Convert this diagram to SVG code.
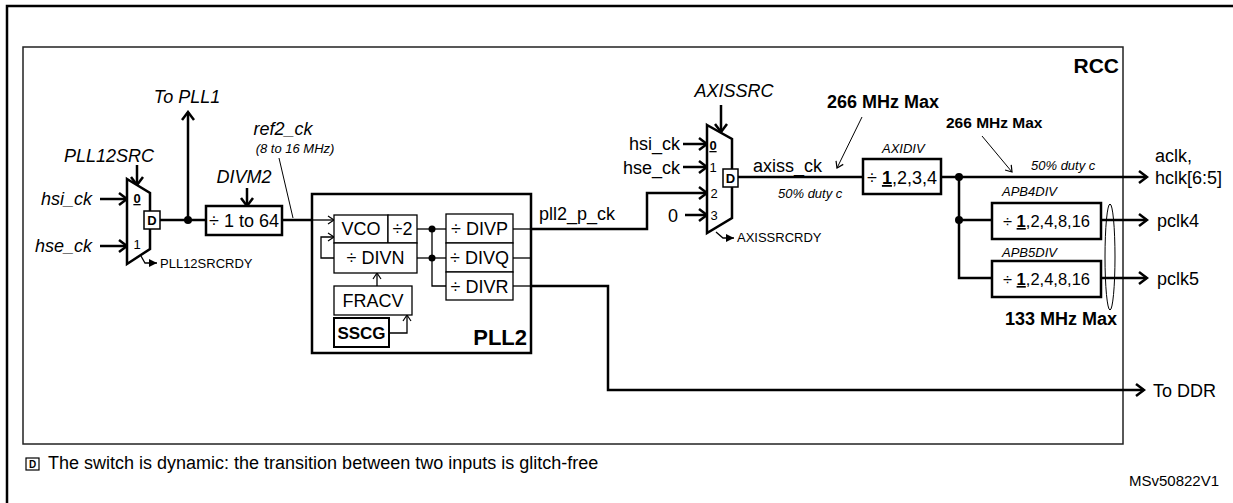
<svg xmlns="http://www.w3.org/2000/svg" width="1233" height="503" viewBox="0 0 1233 503">
<style>
text{font-family:"Liberation Sans",Arial,sans-serif;font-size:18px;fill:#000}
.i{font-style:italic}
.s{font-size:13px}
.b{font-weight:bold}
.m{text-anchor:middle}
.e{text-anchor:end}
.u{text-decoration:underline}
.k{fill:none;stroke:#000;stroke-width:2.5}
.n{fill:none;stroke:#000;stroke-width:1.3}
.bx{fill:#fff;stroke:#000;stroke-width:2.5}
.bn{fill:#fff;stroke:#000;stroke-width:1.3}
.dot{fill:#000}
</style>
<defs>
<marker id="ah" markerWidth="12" markerHeight="14" refX="10" refY="7" orient="auto" markerUnits="userSpaceOnUse"><path d="M2,1 L10,7 L2,13" fill="none" stroke="#000" stroke-width="2.5"/></marker>
<marker id="at" markerWidth="10" markerHeight="10" refX="8" refY="5" orient="auto" markerUnits="userSpaceOnUse"><path d="M2,1 L8,5 L2,9" fill="none" stroke="#000" stroke-width="1.2"/></marker>
<marker id="af" markerWidth="9" markerHeight="8" refX="8" refY="4" orient="auto" markerUnits="userSpaceOnUse"><path d="M0,0 L8,4 L0,8 Z" fill="#000"/></marker>
</defs>

<g id="frame">
<path d="M7,503 V6 H1233" fill="none" stroke="#000" stroke-width="2.5"/>
<rect x="23" y="47" width="1100" height="397" fill="none" stroke="#222" stroke-width="1.5"/>
<text x="1119" y="73" class="b e" style="font-size:21px">RCC</text>
</g>

<g id="connectors">
<line x1="100" y1="199" x2="127" y2="199" class="k" marker-end="url(#ah)"/>
<line x1="100" y1="246" x2="127" y2="246" class="k" marker-end="url(#ah)"/>
<line x1="137" y1="165" x2="137" y2="185" class="k" marker-end="url(#ah)"/>
<path d="M141,256 L145,263 H157" class="n" marker-end="url(#af)"/>
<line x1="160" y1="220" x2="206" y2="220" class="k"/>
<line x1="188" y1="220" x2="188" y2="112" class="k" marker-end="url(#ah)"/>
<circle cx="188" cy="220" r="4" class="dot"/>
<line x1="247" y1="188" x2="247" y2="206" class="k" marker-end="url(#ah)"/>
<line x1="279" y1="158" x2="293" y2="218" stroke="#000" stroke-width="1"/>
<line x1="282" y1="220" x2="312" y2="220" class="k"/>
<line x1="312" y1="220" x2="334" y2="220" class="n" marker-end="url(#at)"/>
<path d="M334,258 H321 V237 H334" class="n" marker-end="url(#at)"/>
<line x1="377" y1="286" x2="377" y2="273" class="n" marker-end="url(#at)"/>
<path d="M389,333 H407 V315" class="n" marker-end="url(#at)"/>
<line x1="417" y1="229" x2="446" y2="229" class="n"/>
<line x1="417" y1="258" x2="446" y2="258" class="n"/>
<path d="M432,229 V286 H446" class="n"/>
<circle cx="432" cy="229" r="3.5" class="dot"/>
<circle cx="432" cy="258" r="3.5" class="dot"/>
<line x1="513" y1="229" x2="531" y2="229" class="n"/>
<line x1="513" y1="258" x2="531" y2="258" class="n"/>
<line x1="513" y1="286" x2="531" y2="286" class="n"/>
<path d="M531,229 H647 V193 H707" class="k" marker-end="url(#ah)"/>
<path d="M531,286 H608 V390 H1144" class="k" marker-end="url(#ah)"/>
<line x1="683" y1="144" x2="707" y2="144" class="k" marker-end="url(#ah)"/>
<line x1="683" y1="167" x2="707" y2="167" class="k" marker-end="url(#ah)"/>
<line x1="685" y1="215" x2="707" y2="215" class="k" marker-end="url(#ah)"/>
<line x1="721" y1="105" x2="721" y2="132" class="k" marker-end="url(#ah)"/>
<path d="M716,232 L723,238 H734" class="n" marker-end="url(#af)"/>
<line x1="737" y1="177" x2="863" y2="177" class="k"/>
<line x1="862" y1="117" x2="837" y2="168" stroke="#000" stroke-width="1" marker-end="url(#at)"/>
<line x1="941" y1="177" x2="1147" y2="177" class="k" marker-end="url(#ah)"/>
<line x1="982" y1="136" x2="1012" y2="172" stroke="#000" stroke-width="1" marker-end="url(#at)"/>
<path d="M959,177 V278 H992" class="k"/>
<line x1="959" y1="220" x2="992" y2="220" class="k"/>
<circle cx="959" cy="177" r="4" class="dot"/>
<circle cx="959" cy="220" r="4" class="dot"/>
<line x1="1101" y1="220" x2="1147" y2="220" class="k" marker-end="url(#ah)"/>
<line x1="1101" y1="278" x2="1147" y2="278" class="k" marker-end="url(#ah)"/>
<ellipse cx="1110" cy="257" rx="5" ry="53" fill="none" stroke="#000" stroke-width="1"/>
</g>

<g id="pll12src">
<text x="109" y="162" class="i m">PLL12SRC</text>
<text x="92" y="205" class="i e">hsi_ck</text>
<text x="92" y="252" class="i e">hse_ck</text>
<polygon points="127,179 150,193 150,249 127,264" class="bx"/>
<text x="137" y="203" class="s b m u">0</text>
<text x="137" y="249" class="s m">1</text>
<rect x="144" y="211" width="16" height="18" fill="#fff" stroke="#000" stroke-width="1.5"/>
<text x="152" y="225" class="s b m">D</text>
<text x="160" y="268" class="s">PLL12SRCRDY</text>
</g>

<g id="topll1"><text x="187" y="103" class="i m">To PLL1</text></g>

<g id="divm2">
<text x="244" y="183" class="i m">DIVM2</text>
<rect x="206" y="206" width="76" height="29" class="bx"/>
<text x="244" y="227" class="m">÷ 1 to 64</text>
</g>

<g id="ref2ck">
<text x="283" y="135" class="i m">ref2_ck</text>
<text x="295" y="153" class="i s m">(8 to 16 MHz)</text>
</g>

<g id="pll2">
<rect x="312" y="194" width="219" height="159" fill="none" stroke="#000" stroke-width="2.5"/>
<rect x="334" y="215" width="54" height="28" class="bn"/>
<text x="361" y="235" class="m">VCO</text>
<rect x="388" y="215" width="29" height="28" class="bn"/>
<text x="402.5" y="235" class="m">÷2</text>
<rect x="334" y="243" width="83" height="30" class="bn"/>
<text x="375.5" y="264" class="m">÷ DIVN</text>
<rect x="334" y="286" width="78" height="29" class="bn"/>
<text x="373" y="307" class="m">FRACV</text>
<rect x="334" y="318" width="55" height="29" class="bx" style="stroke-width:2"/>
<text x="361.5" y="339" class="b m" style="font-size:17px">SSCG</text>
<rect x="446" y="214" width="67" height="29" class="bn"/>
<text x="479.5" y="235" class="m">÷ DIVP</text>
<rect x="446" y="243" width="67" height="29" class="bn"/>
<text x="479.5" y="264" class="m">÷ DIVQ</text>
<rect x="446" y="272" width="67" height="28" class="bn"/>
<text x="479.5" y="293" class="m">÷ DIVR</text>
<text x="527" y="345" class="b e" style="font-size:22px">PLL2</text>
</g>

<g id="pll2pck"><text x="539" y="220">pll2_p_ck</text></g>

<g id="axissrc">
<text x="734" y="97" class="i m">AXISSRC</text>
<text x="680" y="150" class="e">hsi_ck</text>
<text x="680" y="174" class="e">hse_ck</text>
<text x="678" y="222" class="e">0</text>
<polygon points="707,125 732,139 732,218 707,233" class="bx"/>
<text x="713" y="150" class="s b m u">0</text>
<text x="713" y="172" class="s m">1</text>
<text x="714" y="198" class="s m">2</text>
<text x="714" y="220" class="s m">3</text>
<rect x="723" y="169" width="15" height="18" fill="#fff" stroke="#000" stroke-width="1.5"/>
<text x="730.5" y="183" class="s b m">D</text>
<text x="737" y="242" class="s">AXISSRCRDY</text>
</g>

<g id="axissck">
<text x="753" y="172">axiss_ck</text>
<text x="778" y="198" class="i s">50% duty c</text>
<text x="827" y="108" class="b">266 MHz Max</text>
</g>

<g id="axidiv">
<text x="882" y="153" class="i s">AXIDIV</text>
<rect x="863" y="159" width="78" height="35" class="bx"/>
<text x="902" y="184" class="m">÷ <tspan class="b u">1</tspan>,2,3,4</text>
</g>

<g id="aclk">
<text x="946" y="128" class="b" style="font-size:15.5px">266 MHz Max</text>
<text x="1031" y="170" class="i s">50% duty c</text>
<text x="1155" y="162">aclk,</text>
<text x="1155" y="184">hclk[6:5]</text>
</g>

<g id="apb4div">
<text x="1002" y="196" class="i s">APB4DIV</text>
<rect x="992" y="203" width="109" height="36" class="bx"/>
<text x="1046.5" y="227" class="m" style="font-size:16.5px">÷ <tspan class="b u">1</tspan>,2,4,8,16</text>
<text x="1157" y="227">pclk4</text>
</g>

<g id="apb5div">
<text x="1002" y="257" class="i s">APB5DIV</text>
<rect x="992" y="261" width="109" height="36" class="bx"/>
<text x="1046.5" y="285" class="m" style="font-size:16.5px">÷ <tspan class="b u">1</tspan>,2,4,8,16</text>
<text x="1157" y="285">pclk5</text>
<text x="1005" y="325" class="b">133 MHz Max</text>
</g>

<g id="toddr"><text x="1153" y="397">To DDR</text></g>

<g id="legend">
<rect x="26" y="458" width="13" height="12" fill="#fff" stroke="#000" stroke-width="1.2"/>
<text x="32.5" y="468" class="b m" style="font-size:10px">D</text>
<text x="48" y="469">The switch is dynamic: the transition between two inputs is glitch-free</text>
<text x="1129" y="486" style="font-size:15px">MSv50822V1</text>
</g>
</svg>
